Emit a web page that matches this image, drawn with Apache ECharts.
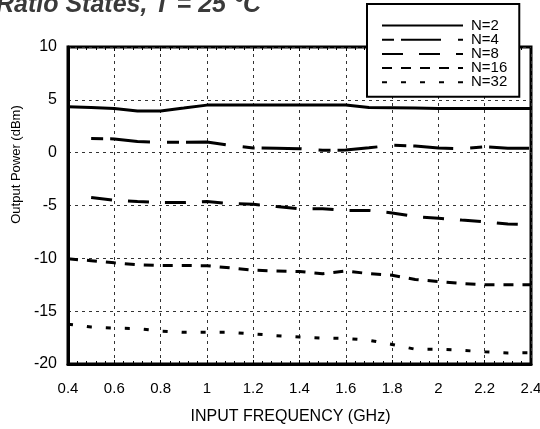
<!DOCTYPE html>
<html>
<head>
<meta charset="utf-8">
<script src="https://cdn.jsdelivr.net/npm/echarts@6/dist/echarts.min.js"></script>
<style>
  html, body { margin: 0; padding: 0; background: #fff; }
  #chart { width: 540px; height: 429px; }
</style>
</head>
<body>
<div id="chart"></div>
<script>
// 频率点 (GHz)
var freq = [0.4, 0.5, 0.6, 0.7, 0.8, 0.9, 1.0, 1.1, 1.2, 1.3, 1.4, 1.5, 1.6, 1.7, 1.8, 1.9, 2.0, 2.1, 2.2, 2.3, 2.4];

// 各分频比的输出功率 (dBm), null = 无数据
var n2  = [4.35, 4.27, 4.18, 3.95, 3.95, 4.22, 4.5, 4.5, 4.5, 4.5, 4.5, 4.5, 4.5, 4.27, 4.25, 4.22, 4.18, 4.18, 4.18, 4.18, 4.18];
var n4  = [null, 1.33, 1.3, 1.05, 0.98, 0.98, 1.0, 0.68, 0.45, 0.42, 0.38, 0.22, 0.25, 0.46, 0.7, 0.62, 0.45, 0.38, 0.55, 0.42, 0.42];
var n8  = [null, -4.25, -4.5, -4.62, -4.72, -4.72, -4.62, -4.82, -4.88, -5.1, -5.32, -5.3, -5.47, -5.47, -5.7, -6.05, -6.2, -6.38, -6.55, -6.75, -6.83];
var n16 = [-10.05, -10.22, -10.42, -10.6, -10.68, -10.68, -10.7, -10.9, -11.12, -11.2, -11.25, -11.45, -11.2, -11.45, -11.6, -12.0, -12.2, -12.38, -12.5, -12.5, -12.5];
var n32 = [-16.23, -16.5, -16.6, -16.65, -16.88, -17.0, -17.0, -17.0, -17.15, -17.32, -17.45, -17.55, -17.58, -17.75, -18.15, -18.6, -18.6, -18.7, -18.85, -18.95, -18.93];

var seriesNames = ['N=2', 'N=4', 'N=8', 'N=16', 'N=32'];
var xTicks = [0.4, 2.4, 0.2];   // min, max, interval
var yTicks = [-20, 10, 5];

var font = 'Liberation Sans, Arial, sans-serif';

function pairs(vals) {
    var out = [];
    for (var i = 0; i < freq.length; i++) {
        if (vals[i] !== null) out.push([freq[i], vals[i]]);
    }
    return out;
}

function mkSeries(name, vals, dash) {
    return {
        name: name,
        type: 'line',
        data: pairs(vals),
        symbol: 'none',
        showSymbol: false,
        lineStyle: { color: '#000', width: 3, type: dash, cap: 'butt' },
        itemStyle: { color: '#000' },
        z: 3
    };
}

var gridDash = { color: '#333', width: 1, type: [3, 4] };

var chart = echarts.init(document.getElementById('chart'));
var option = {
    animation: false,
    title: {
        text: 'Ratio States, T = 25 °C',
        left: -4,
        top: -7,
        padding: 0,
        textStyle: { fontFamily: font, fontStyle: 'italic', fontWeight: 'bold', fontSize: 25, color: '#3a3a3a' }
    },
    legend: {
        data: seriesNames,
        orient: 'vertical',
        left: 367,
        top: 4,
        padding: [14, 12, 7, 14],
        itemWidth: 81,
        itemHeight: 14,
        itemGap: -0.8,
        backgroundColor: '#fff',
        borderColor: '#000',
        borderWidth: 2,
        itemStyle: { opacity: 0 },
        textStyle: { fontFamily: font, fontSize: 15, lineHeight: 14, color: '#000', padding: [0, 0, 0, 3] },
        z: 10
    },
    grid: {
        left: 68, right: 9, top: 47, bottom: 65,
        outerBoundsMode: 'none',
        containLabel: false,
        show: true,
        borderColor: '#000',
        borderWidth: 3
    },
    xAxis: [{
        type: 'value',
        min: xTicks[0], max: xTicks[1], interval: xTicks[2],
        name: 'INPUT FREQUENCY (GHz)',
        nameLocation: 'middle',
        nameGap: 45,
        nameTextStyle: { fontFamily: font, fontSize: 16, color: '#000', padding: [0, 18, 0, 0] },
        axisLine: { onZero: false, lineStyle: { color: '#000', width: 3 } },
        axisTick: { inside: true, length: 4, lineStyle: { color: '#000' } },
        minorTick: { show: true, splitNumber: 5, length: 3, lineStyle: { color: '#000' } },
        axisLabel: { margin: 17, fontFamily: font, fontSize: 15, color: '#000' },
        splitLine: { show: true, lineStyle: gridDash }
    }, {
        type: 'value',
        position: 'top',
        min: xTicks[0], max: xTicks[1], interval: xTicks[2],
        axisLine: { show: false, onZero: false },
        axisTick: { inside: true, length: 4, lineStyle: { color: '#000' } },
        minorTick: { show: true, splitNumber: 5, length: 3, lineStyle: { color: '#000' } },
        axisLabel: { show: false },
        splitLine: { show: false }
    }],
    yAxis: {
        type: 'value',
        min: yTicks[0], max: yTicks[1], interval: yTicks[2],
        name: 'Output Power (dBm)',
        nameLocation: 'middle',
        nameGap: 40,
        nameTextStyle: { fontFamily: font, fontSize: 13, color: '#000', padding: [0, 0, 0, 82] },
        axisLine: { onZero: false, lineStyle: { color: '#000', width: 3 } },
        axisTick: { show: false },
        axisLabel: { margin: 11, fontFamily: font, fontSize: 16, color: '#000' },
        splitLine: { show: true, lineStyle: gridDash }
    },
    series: [
        mkSeries('N=2', n2, 'solid'),
        mkSeries('N=4', n4, [12, 7, 40, 17]),
        mkSeries('N=8', n8, [21, 16]),
        mkSeries('N=16', n16, [10, 9]),
        mkSeries('N=32', n32, [5, 14])
    ]
};
chart.setOption(option);
</script>
</body>
</html>
